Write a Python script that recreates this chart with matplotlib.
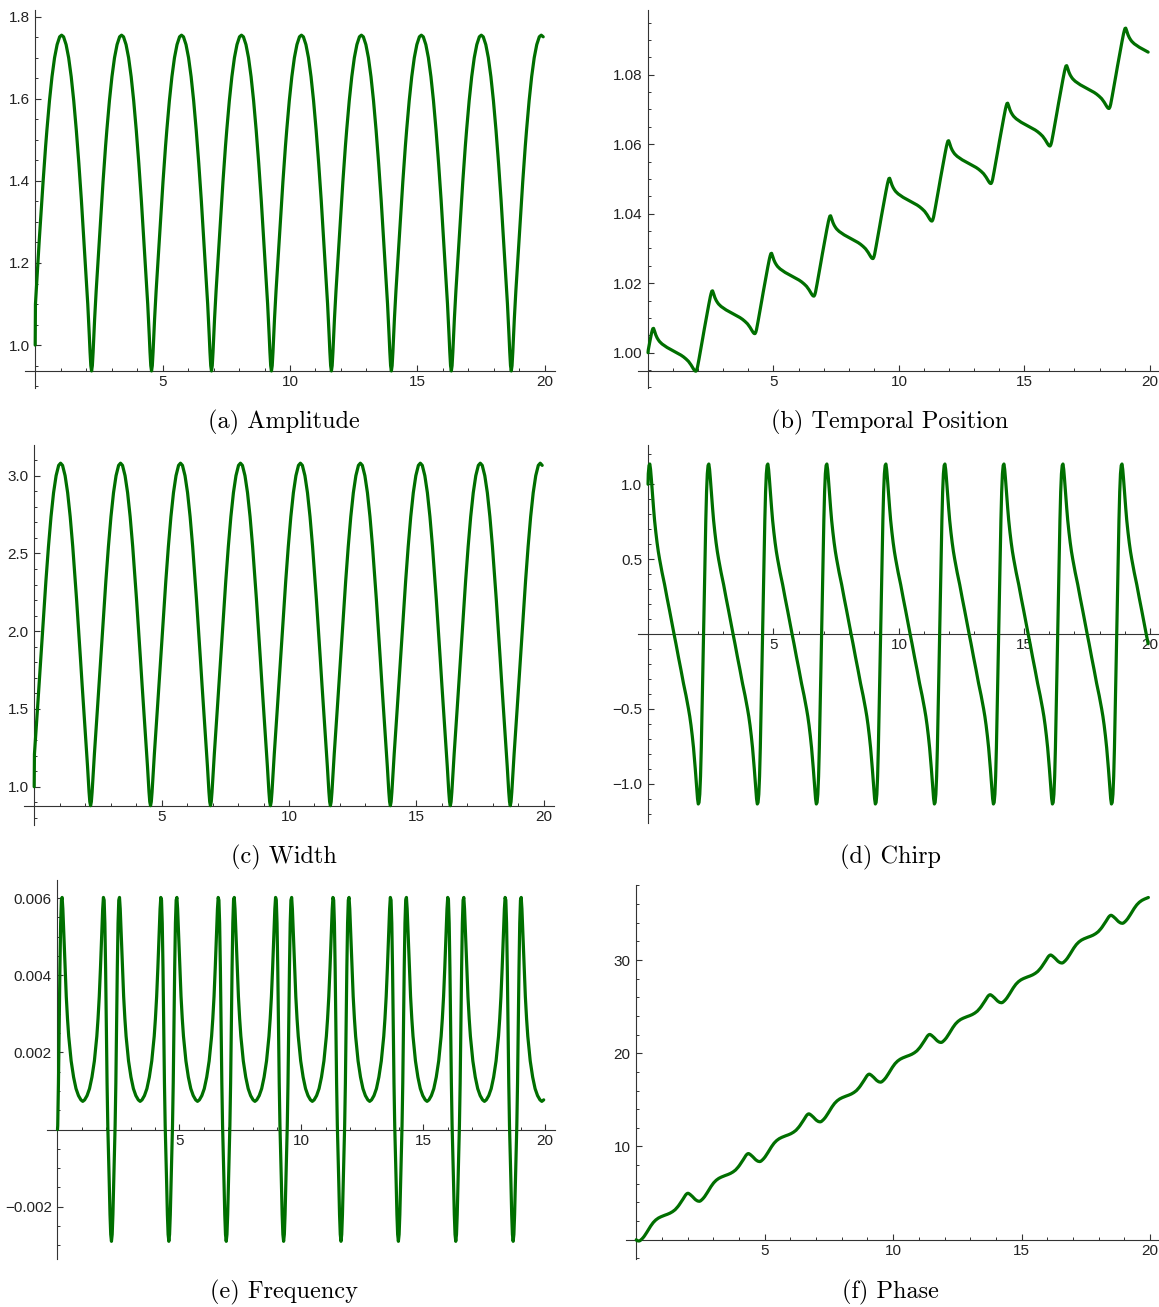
import numpy as np
import matplotlib.pyplot as plt
from matplotlib.ticker import FixedLocator, FuncFormatter

plt.rcParams['font.family'] = ['Liberation Sans', 'DejaVu Sans']

# offsets inside one breathing period, counted from the amplitude minimum
cycle_v = [0.0, 0.03, 0.06, 0.09, 0.12, 0.15, 0.18, 0.21, 0.24, 0.27, 0.30, 0.33,
           0.36, 0.40, 0.45, 0.50, 0.55, 0.60, 0.70, 0.80, 0.90, 1.00, 1.10,
           1.176,
           1.253, 1.353, 1.453, 1.553, 1.653, 1.753, 1.803, 1.853, 1.903, 1.953,
           1.993, 2.023, 2.053, 2.083, 2.113, 2.143, 2.173, 2.203, 2.233, 2.263,
           2.293, 2.323]

# times of the amplitude minima (first one just before t=0)
cycle_start = [-0.14, 2.213, 4.566, 6.919, 9.272, 11.625, 13.978, 16.331, 18.684]

amp_cycle = [0.937, 0.950, 0.983, 1.024, 1.064, 1.100, 1.132, 1.162, 1.194, 1.226,
             1.256, 1.285, 1.313, 1.353, 1.398, 1.443, 1.485, 1.524, 1.595, 1.654,
             1.700, 1.732, 1.751,
             1.755,
             1.751, 1.732, 1.700, 1.654, 1.595, 1.524, 1.485, 1.443, 1.398, 1.353,
             1.313, 1.285, 1.256, 1.226, 1.194, 1.162, 1.132, 1.100, 1.064, 1.024,
             0.983, 0.950]

width_cycle = [0.878, 0.903, 0.966, 1.049, 1.132, 1.210, 1.281, 1.350, 1.426, 1.503,
               1.578, 1.651, 1.724, 1.831, 1.954, 2.082, 2.205, 2.323, 2.544, 2.736,
               2.890, 3.000, 3.066,
               3.080,
               3.066, 3.000, 2.890, 2.736, 2.544, 2.323, 2.205, 2.082, 1.954, 1.831,
               1.724, 1.651, 1.578, 1.503, 1.426, 1.350, 1.281, 1.210, 1.132, 1.049,
               0.966, 0.903]

chirp_cycle = [0.00, 0.26, 0.52, 0.76, 0.95, 1.07, 1.125, 1.135, 1.10, 1.04,
               0.97, 0.90, 0.84, 0.76, 0.68, 0.61, 0.55, 0.50, 0.41, 0.33,
               0.24, 0.155, 0.065,
               0.0,
               -0.065, -0.155, -0.24, -0.33, -0.41, -0.50, -0.55, -0.61, -0.68, -0.76,
               -0.84, -0.90, -0.97, -1.04, -1.10, -1.135, -1.125, -1.07, -0.95, -0.76,
               -0.52, -0.26]

freq_cycle = [-0.00290, -0.00272, -0.00220, -0.00140, -0.00060, 0.00010, 0.00120,
              0.00270, 0.00420, 0.00535, 0.00595, 0.00602, 0.00572, 0.00505, 0.00420,
              0.00345, 0.00288, 0.00242, 0.00178, 0.00136, 0.00106, 0.00088, 0.00077,
              0.00073,
              0.00077, 0.00088, 0.00106, 0.00136, 0.00178, 0.00242, 0.00288, 0.00345,
              0.00420, 0.00505, 0.00572, 0.00602, 0.00595, 0.00535, 0.00420, 0.00270,
              0.00120, 0.00010, -0.00060, -0.00140, -0.00220, -0.00272]

# temporal position: shape within a period + level at each period start
pos_cycle = [0.0000, 0.0012, 0.0024, 0.0036, 0.0048, 0.0060, 0.0072, 0.0083, 0.0094,
             0.0105, 0.0114, 0.0121, 0.0122, 0.0114, 0.0103, 0.0095, 0.0089, 0.0084,
             0.0077, 0.0072, 0.0067, 0.0063, 0.0059,
             0.0056,
             0.0053, 0.0049, 0.0045, 0.0040, 0.0034, 0.0027, 0.0022, 0.0017, 0.0011,
             0.0005, 0.0001, -0.0001, -0.0001, 0.0003, 0.0011, 0.0022, 0.0034, 0.0046,
             0.0058, 0.0071, 0.0083, 0.0095]
pos_level = [0.9948, 1.0056, 1.0164, 1.0272, 1.0380, 1.0488, 1.0596, 1.0704, 1.0812]

phase_cycle = [0.00, -0.09, -0.17, -0.25, -0.31, -0.36, -0.40, -0.42, -0.43, -0.41,
               -0.36, -0.29, -0.21, -0.09, 0.08, 0.28, 0.50, 0.73, 1.17, 1.55,
               1.83, 2.03, 2.17,
               2.26,
               2.34, 2.44, 2.56, 2.72, 2.93, 3.24, 3.42, 3.62, 3.83, 4.04,
               4.22, 4.36, 4.48, 4.58, 4.65, 4.69, 4.68, 4.63, 4.57, 4.50,
               4.43, 4.35]
phase_level = [0.29, 4.55, 8.81, 13.07, 17.33, 21.59, 25.85, 30.11, 34.37]

# values at t = 0 (initial conditions seen at the left edge of each panel)
amp_t0 = 1.0
width_t0 = 1.0
chirp_t0 = 1.0
freq_t0 = 0.0
pos_t0 = 1.0
phase_t0 = 0.0


def unroll(cycle, start, level=None):
    t, y = [0.0], [start]
    for k, s in enumerate(cycle_start):
        base = 0.0 if level is None else level[k]
        for v, val in zip(cycle_v, cycle):
            if 0.0 < s + v <= 20.0:
                t.append(s + v)
                y.append(base + val)
    return t, y


W, H = 1159, 1307
fig = plt.figure(figsize=(W / 100, H / 100), dpi=100)

green = '#006f00'
axcol = '#333333'

panels = [
    dict(data=unroll(amp_cycle, amp_t0), box=(25, 10, 555, 388), xlim=(-0.4, 20.4),
         ylim=(0.8955, 1.8163), yaxis=0.937, major=[1.0, 1.2, 1.4, 1.6, 1.8],
         minor_step=0.05, fmt='{:.1f}', cap='(a) Amplitude', cxy=(284, 422)),
    dict(data=unroll(pos_cycle, pos_t0, pos_level), box=(638, 10, 1159, 388),
         xlim=(-0.4, 20.37), ylim=(0.98984, 1.09862), yaxis=0.9948,
         major=[1.00, 1.02, 1.04, 1.06, 1.08], minor_step=0.005, fmt='{:.2f}',
         cap='(b) Temporal Position', cxy=(890, 422)),
    dict(data=unroll(width_cycle, width_t0), box=(24, 445, 554, 825), xlim=(-0.4, 20.4),
         ylim=(0.754, 3.197), yaxis=0.876, major=[1.0, 1.5, 2.0, 2.5, 3.0],
         minor_step=0.1, fmt='{:.1f}', cap='(c) Width', cxy=(284, 857)),
    dict(data=unroll(chirp_cycle, chirp_t0), box=(638, 445, 1159, 823),
         xlim=(-0.4, 20.37), ylim=(-1.262, 1.262), yaxis=0.0,
         major=[-1.0, -0.5, 0.5, 1.0], minor_step=0.1, fmt='{:.1f}',
         cap='(d) Chirp', cxy=(890, 857)),
    dict(data=unroll(freq_cycle, freq_t0), box=(47, 880, 555, 1259), xlim=(-0.43, 20.4),
         ylim=(-0.003358, 0.006472), yaxis=0.0, major=[-0.002, 0.002, 0.004, 0.006],
         minor_step=0.0005, fmt='{:.3f}', cap='(e) Frequency', cxy=(284, 1292)),
    dict(data=unroll(phase_cycle, phase_t0, phase_level), box=(626, 885, 1159, 1259),
         xlim=(-0.4, 20.35), ylim=(-2.07, 38.05), yaxis=0.0, major=[10, 20, 30],
         minor_step=2, fmt='{:.0f}', cap='(f) Phase', cxy=(890, 1292)),
]

for p in panels:
    l, t, r, b = p['box']
    ax = fig.add_axes([l / W, 1 - b / H, (r - l) / W, (b - t) / H])
    tt, yy = p['data']
    ax.plot(tt, yy, color=green, lw=2.3, solid_capstyle='round',
            solid_joinstyle='round', zorder=3)
    ax.set_xlim(*p['xlim'])
    ax.set_ylim(*p['ylim'])

    for s in ['top', 'right']:
        ax.spines[s].set_visible(False)
    ax.spines['left'].set_position(('data', 0))
    ax.spines['bottom'].set_position(('data', p['yaxis']))
    for s in ['left', 'bottom']:
        ax.spines[s].set_color(axcol)
        ax.spines[s].set_linewidth(0.8)

    ax.xaxis.set_major_locator(FixedLocator([5, 10, 15, 20]))
    ax.xaxis.set_minor_locator(FixedLocator([i for i in range(1, 21) if i % 5]))

    lo, hi = p['ylim']
    st = p['minor_step']
    k0 = int(np.ceil(lo / st))
    k1 = int(np.floor(hi / st))
    minors = [k * st for k in range(k0, k1 + 1)
              if all(abs(k * st - m) > st / 10 for m in p['major'])]
    ax.yaxis.set_major_locator(FixedLocator(p['major']))
    ax.yaxis.set_minor_locator(FixedLocator(minors))
    fmt = p['fmt']
    ax.yaxis.set_major_formatter(FuncFormatter(
        lambda v, pos, fmt=fmt: fmt.format(v).replace('-', '\u2212')))
    ax.xaxis.set_major_formatter(FuncFormatter(lambda v, pos: '{:.0f}'.format(v)))

    ax.tick_params(which='both', direction='in', colors=axcol, labelcolor='#222222',
                   labelsize=11)
    ax.tick_params(which='major', length=4, width=0.8)
    ax.tick_params(which='minor', length=2.3, width=0.7)
    ax.tick_params(axis='x', pad=3)
    ax.tick_params(axis='y', pad=4)
    ax.patch.set_visible(False)

    cx, cy = p['cxy']
    fig.text(cx / W, 1 - cy / H, p['cap'], ha='center', va='center',
             fontfamily='cmr10', fontsize=17.5)

fig.savefig('out.png', dpi=100)
